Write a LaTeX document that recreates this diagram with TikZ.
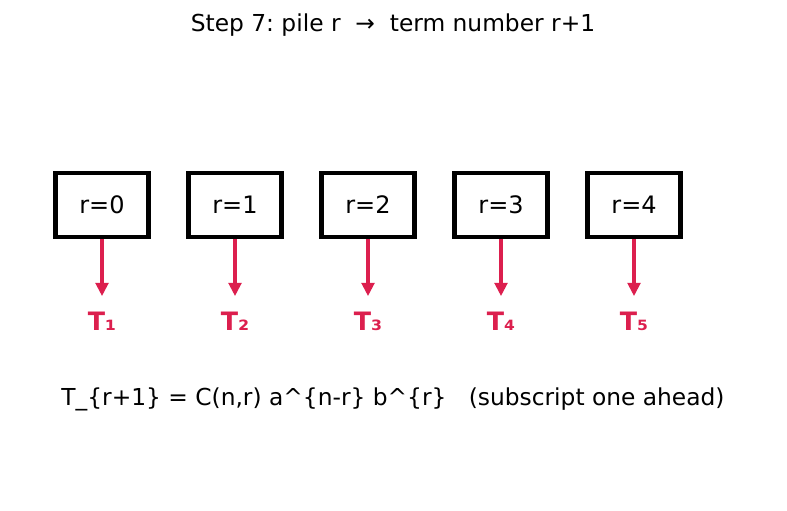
\documentclass[tikz,border=0pt]{standalone}
\usepackage{fontspec}
\setmainfont{DejaVu Sans}
\usetikzlibrary{positioning,arrows.meta}
\definecolor{termred}{HTML}{DC1F4E}
\frenchspacing
\begin{document}
\begin{tikzpicture}[x=0.75pt,y=-0.75pt,
  pile/.style={draw,line width=3.5pt,minimum width=70pt,minimum height=48pt,
    font=\fontsize{18}{20}\selectfont},
  term/.style={text=termred,font=\bfseries\fontsize{19}{22}\selectfont},
  pilearrow/.style={-{Triangle[length=10pt,width=9.5pt]},termred,line width=2.6pt,
    shorten >=8pt}]
\useasboundingbox (0,0) rectangle (787,510);
\node (title) at (393,25) {\fontsize{17.5}{20}\selectfont Step 7: pile r\ \ →\ \ term number r+1};
\foreach \x/\r/\t in {102/0/₁,235/1/₂,368/2/₃,501/3/₄,634/4/₅}{
\node [pile] (p\r) at (\x,205) {r=\r};
\node [term,anchor=base] (t\r) at (\x,330) {T\t};
\draw [pilearrow] (p\r.south) -- (t\r.north);
}
\node (formula) at (393,399) {\fontsize{17.5}{20}\selectfont T\_\{r+1\} = C(n,r) a\textasciicircum\{n-r\} b\textasciicircum\{r\}\ \ \ (subscript one ahead)};
\end{tikzpicture}
\end{document}
